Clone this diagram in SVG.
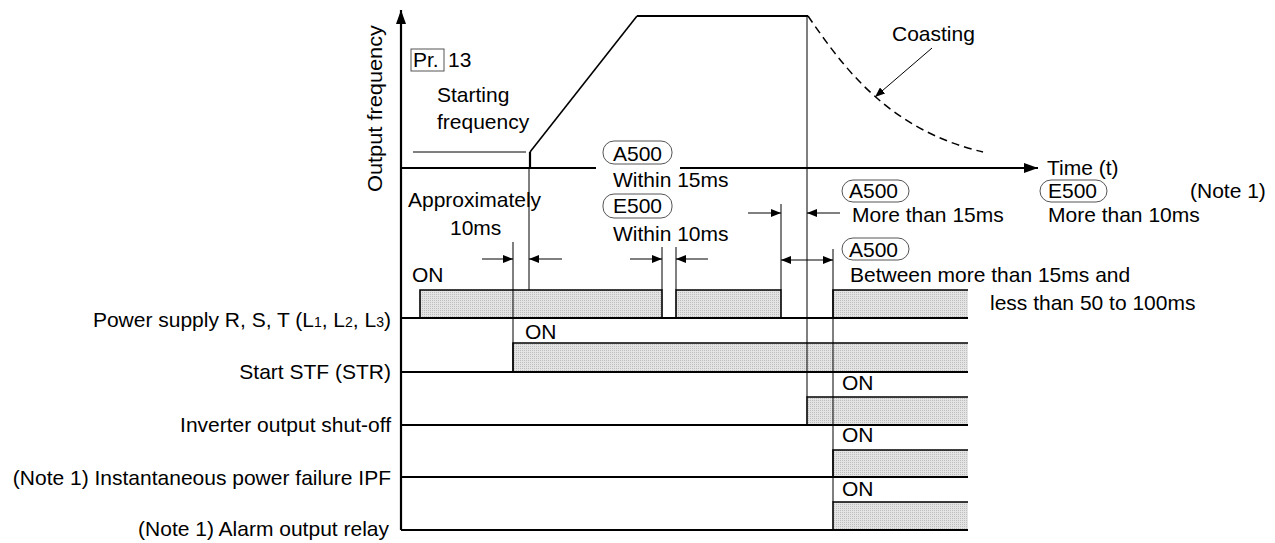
<svg xmlns="http://www.w3.org/2000/svg" width="1275" height="543" viewBox="0 0 1275 543">
<style>
text{font-family:"Liberation Sans",Arial,sans-serif;font-size:21px;fill:#000}
.thin{stroke:#000;stroke-width:1;fill:none}
.mid{stroke:#000;stroke-width:1.6;fill:none}
.thick{stroke:#000;stroke-width:2.2;fill:none}
.bar{fill:url(#dots);stroke:none}
.pill{fill:none;stroke:#555;stroke-width:1}
</style>
<defs>
<pattern id="dots" width="2" height="2" patternUnits="userSpaceOnUse">
<rect width="2" height="2" fill="#e4e4e4"/>
<rect width="1" height="1" fill="#bdbdbd"/>
</pattern>
<marker id="ah" viewBox="0 0 10 8" refX="10" refY="4" markerWidth="10" markerHeight="8" markerUnits="userSpaceOnUse" orient="auto-start-reverse">
<path d="M0,0 L10,4 L0,8 z" fill="#000"/>
</marker>
<marker id="ax" viewBox="0 0 14 10" refX="14" refY="5" markerWidth="14" markerHeight="10" markerUnits="userSpaceOnUse" orient="auto">
<path d="M0,0 L14,5 L0,10 z" fill="#000"/>
</marker>
</defs>

<g id="axes">
<path class="thick" d="M401,530 V10" marker-end="url(#ax)"/>
<path class="thick" d="M401,168 H596"/>
<path class="thick" d="M680,168 H1038" marker-end="url(#ax)"/>
<text transform="translate(382,192) rotate(-90)" textLength="167" lengthAdjust="spacingAndGlyphs">Output frequency</text>
<text x="1047" y="175">Time (t)</text>
</g>

<g id="frequency">
<path class="thin" d="M413,152 H526"/>
<path class="thick" d="M530,168 V152"/>
<path class="mid" d="M530,152 L637,16"/>
<path class="thick" d="M637,16 H808"/>
<path d="M808,16 C845,70 890,130 983,152" fill="none" stroke="#000" stroke-width="1.5" stroke-dasharray="8,5"/>
<text x="892" y="41">Coasting</text>
</g>

<g id="pr13">
<rect class="pill" x="411" y="49" width="33" height="22" rx="0"/>
<text x="413" y="67">Pr.</text>
<text x="448" y="67">13</text>
<text x="437" y="102">Starting</text>
<text x="437" y="129">frequency</text>
</g>

<g id="power-supply">
<rect class="bar" x="420" y="290" width="242" height="28"/>
<rect class="bar" x="676" y="290" width="105" height="28"/>
<rect class="bar" x="833" y="290" width="135" height="28"/>
<path class="thick" d="M401,318 H968"/>
<path class="mid" d="M420,318 V290 H662 V318 M676,318 V290 H781 V318 M833,318 V290 H968"/>
<text x="412" y="282">ON</text>
<text x="391" y="327" text-anchor="end">Power supply R, S, T (L<tspan font-size="14">1</tspan>, L<tspan font-size="14">2</tspan>, L<tspan font-size="14">3</tspan>)</text>
</g>

<g id="start">
<rect class="bar" x="513" y="343" width="455" height="29"/>
<path class="thick" d="M401,372 H968"/>
<path class="mid" d="M513,372 V343 H968"/>
<text x="525" y="339">ON</text>
<text x="391" y="379" text-anchor="end">Start STF (STR)</text>
</g>

<g id="inverter-shutoff">
<rect class="bar" x="807" y="397" width="161" height="28"/>
<path class="thick" d="M401,425 H968"/>
<path class="mid" d="M807,425 V397 H968"/>
<text x="842" y="390">ON</text>
<text x="391" y="432" text-anchor="end">Inverter output shut-off</text>
</g>

<g id="ipf">
<rect class="bar" x="833" y="450" width="135" height="27"/>
<path class="thick" d="M401,477 H968"/>
<path class="mid" d="M833,477 V450 H968"/>
<text x="842" y="442">ON</text>
<text x="391" y="485" text-anchor="end">(Note 1) Instantaneous power failure IPF</text>
</g>

<g id="alarm">
<rect class="bar" x="833" y="502" width="135" height="28"/>
<path class="thick" d="M401,530 H968"/>
<path class="mid" d="M833,530 V502 H968"/>
<text x="842" y="496">ON</text>
<text x="389" y="536" text-anchor="end">(Note 1) Alarm output relay</text>
</g>

<g id="annotations">
<rect class="pill" x="603" y="141" width="69" height="23" rx="11"/>
<text x="613" y="161">A500</text>
<text x="613" y="187">Within 15ms</text>
<rect class="pill" x="603" y="194" width="69" height="24" rx="11"/>
<text x="613" y="213">E500</text>
<text x="613" y="241">Within 10ms</text>
<text x="408" y="207">Approximately</text>
<text x="450" y="235">10ms</text>
<rect class="pill" x="842" y="180" width="67" height="22" rx="11"/>
<text x="849" y="198">A500</text>
<text x="852" y="222">More than 15ms</text>
<rect class="pill" x="1040" y="180" width="67" height="22" rx="11"/>
<text x="1048" y="198">E500</text>
<text x="1048" y="222">More than 10ms</text>
<text x="1190" y="198">(Note 1)</text>
<rect class="pill" x="842" y="238" width="67" height="22" rx="11"/>
<text x="849" y="257">A500</text>
<text x="850" y="282">Between more than 15ms and</text>
<text x="990" y="310">less than 50 to 100ms</text>
</g>

<g id="connectors">
<path class="thin" d="M513,242 V372"/>
<path class="thin" d="M529,168 V290"/>
<path class="thin" d="M662,247 V290"/>
<path class="thin" d="M676,247 V290"/>
<path class="thin" d="M781,204 V290"/>
<path class="thin" d="M807,16 V397"/>
<path class="thin" d="M833,249 V502"/>
<path class="thin" d="M482,259 H513" marker-end="url(#ah)"/>
<path class="thin" d="M562,259 H529" marker-end="url(#ah)"/>
<path class="thin" d="M630,259 H662" marker-end="url(#ah)"/>
<path class="thin" d="M708,259 H676" marker-end="url(#ah)"/>
<path class="thin" d="M748,213 H781" marker-end="url(#ah)"/>
<path class="thin" d="M840,213 H807" marker-end="url(#ah)"/>
<path class="thin" d="M781,260 H833" marker-start="url(#ah)" marker-end="url(#ah)"/>
<path class="thin" d="M932,48 L875,97" marker-end="url(#ah)"/>
</g>
</svg>
